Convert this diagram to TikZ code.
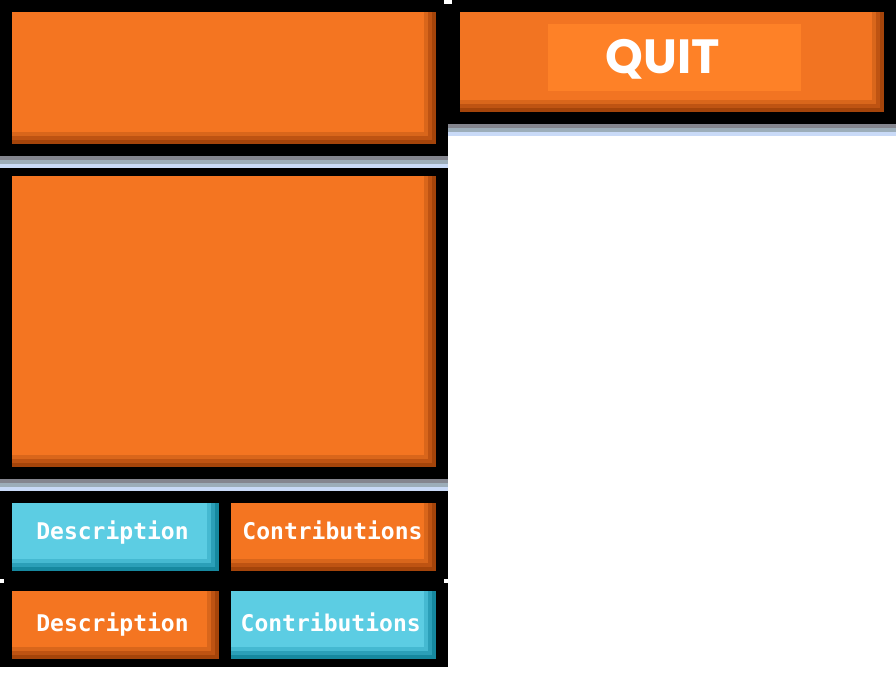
\documentclass[tikz,border=0pt]{standalone}
\usepackage{fontspec}
\newfontfamily\quitfont{Poppins}
\newfontfamily\btnfont{DejaVu Sans Mono}
\definecolor{orFace}{HTML}{F47521}
\definecolor{orSa}{HTML}{D9661B}
\definecolor{orSb}{HTML}{BE5312}
\definecolor{orSc}{HTML}{A4440A}
\definecolor{cyFace}{HTML}{5CCDE3}
\definecolor{cySa}{HTML}{45B9D1}
\definecolor{cySb}{HTML}{2B9FB8}
\definecolor{cySc}{HTML}{16889F}
\definecolor{qtFace}{HTML}{F27422}
\definecolor{qtInner}{HTML}{FE8127}
\definecolor{bandA}{HTML}{84858E}
\definecolor{bandB}{HTML}{9CADB9}
\definecolor{bandC}{HTML}{C9DAF7}
\newcommand{\bevelbox}[5]{%
\fill[#5Sc] (#1,#2) rectangle (#3,#4);
\fill[#5Sb] (#1,#2) rectangle ({#3-4},{#4-4});
\fill[#5Sa] (#1,#2) rectangle ({#3-8},{#4-8});
\fill[#5Face] (#1,#2) rectangle ({#3-12},{#4-12});}
\newcommand{\bands}[3]{%
\fill[bandA] (#1,#3) rectangle (#2,{#3+4});
\fill[bandB] (#1,{#3+4}) rectangle (#2,{#3+8});
\fill[bandC] (#1,{#3+8}) rectangle (#2,{#3+12});}
\tikzset{
  btnlabel/.style={anchor=base,text=white,font=\btnfont\bfseries\fontsize{23}{23}\selectfont,inner sep=0pt},
  quitlabel/.style={anchor=base,text=white,font=\quitfont\bfseries\fontsize{48}{48}\selectfont,inner sep=0pt}
}
\begin{document}
\begin{tikzpicture}[x=1pt,y=-1pt]
\useasboundingbox (0,0) rectangle (896,700);
\fill[black] (0,0) rectangle (896,124);
\fill[black] (0,124) rectangle (448,156);
\fill[black] (0,168) rectangle (448,479);
\fill[black] (0,491) rectangle (448,667);
\fill[white] (444,0) rectangle (452,4);
\fill[white] (0,579) rectangle (4,583);
\fill[white] (444,579) rectangle (448,583);
\bands{448}{896}{124}
\bands{0}{448}{156}
\bands{0}{448}{479}
\bevelbox{12}{12}{436}{144}{or}
\bevelbox{12}{176}{436}{467}{or}
\bevelbox{460}{12}{884}{112}{or}
\fill[qtFace] (460,12) rectangle (872,100);
\fill[orSa] (460,100) rectangle (496,104);
\fill[orSa] (861,100) rectangle (872,104);
\fill[qtInner] (548,24) rectangle (801,91);
\node[quitlabel] (quit) at (663,74) {QUIT};
\bevelbox{12}{503}{219}{571}{cy}
\bevelbox{231}{503}{436}{571}{or}
\bevelbox{12}{591}{219}{659}{or}
\bevelbox{231}{591}{436}{659}{cy}
\node[btnlabel] (descA) at (112.5,539) {Description};
\node[btnlabel] (contribA) at (332.5,539) {Contributions};
\node[btnlabel] (descB) at (112.5,631) {Description};
\node[btnlabel] (contribB) at (330.7,631) {Contributions};
\end{tikzpicture}
\end{document}
